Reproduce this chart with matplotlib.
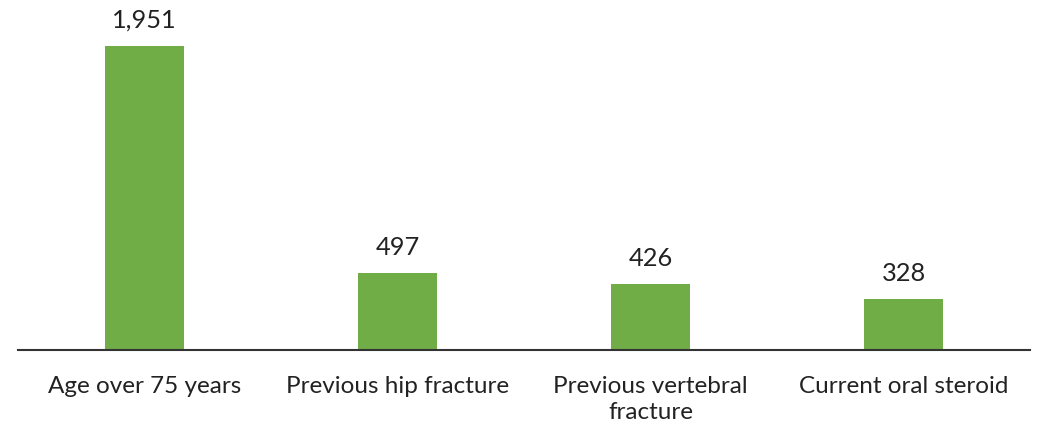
import matplotlib
matplotlib.use("Agg")
import matplotlib.pyplot as plt
import numpy as np

# risk factors and patient counts
categories = ["Age over 75 years", "Previous hip fracture",
              "Previous vertebral\nfracture", "Current oral steroid"]
counts = [1951, 497, 426, 328]

plt.rcParams['font.family'] = ['Lato', 'DejaVu Sans']

fig = plt.figure(figsize=(10.38, 4.32), dpi=100)
ax = fig.add_axes([18 / 1038, (432 - 350) / 432, 1012 / 1038, 343 / 432])

x = np.arange(len(categories))
bars = ax.bar(x, counts, width=0.31, color="#70AD47")

for b, v in zip(bars, counts):
    ax.annotate(f"{v:,}", (b.get_x() + b.get_width() / 2, v),
                xytext=(0, 10), textcoords="offset points",
                ha="center", va="bottom", fontsize=18.3, color="#222222")

ax.set_xlim(-0.5, 3.5)
ax.set_ylim(0, 2200)
ax.set_xticks(x)
ax.set_xticklabels(categories, fontsize=17.5, color="#222222", linespacing=1.25)
ax.tick_params(axis="x", length=0, pad=19)
ax.set_yticks([])
for s in ["top", "right", "left"]:
    ax.spines[s].set_visible(False)
ax.spines["bottom"].set_color("#333333")
ax.spines["bottom"].set_linewidth(1.5)

fig.savefig("out.png", dpi=100)
